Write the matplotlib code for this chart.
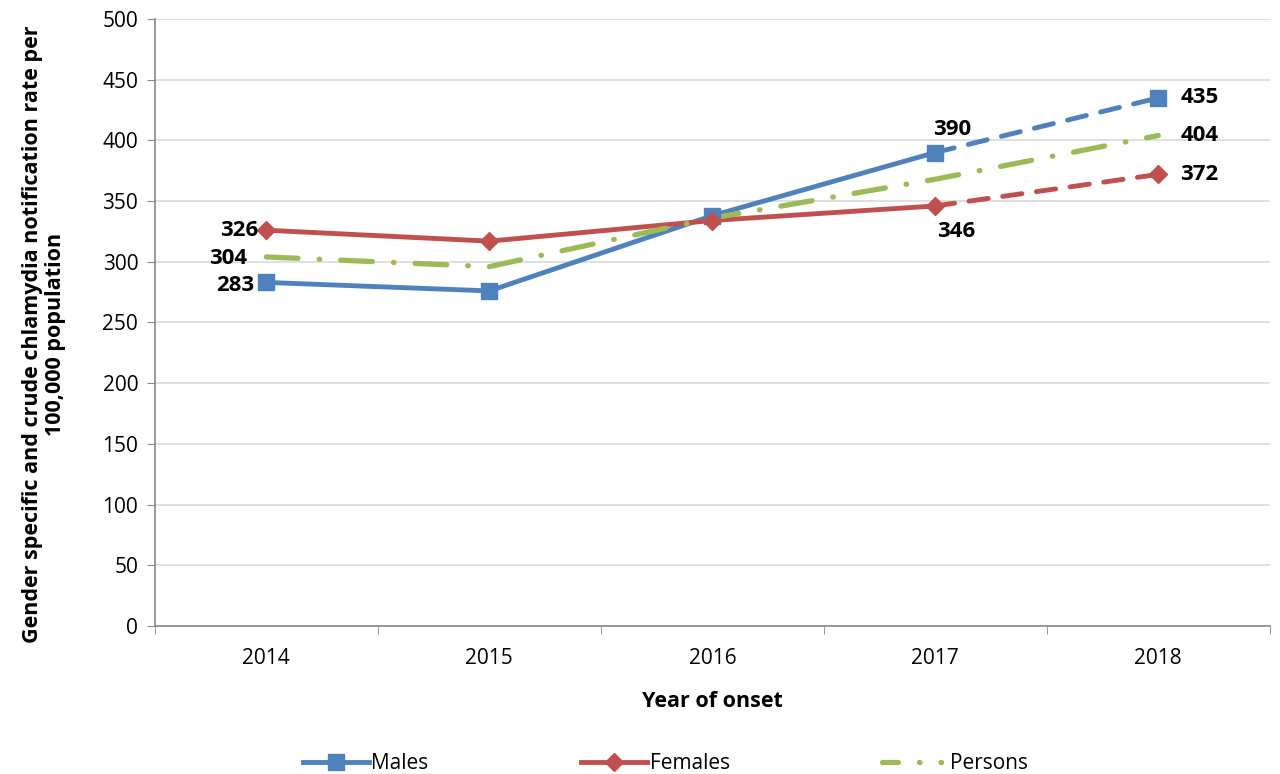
import matplotlib
matplotlib.use("Agg")
import matplotlib.pyplot as plt
import numpy as np

plt.rcParams['font.family'] = ['Open Sans', 'DejaVu Sans']

years = ["2014", "2015", "2016", "2017", "2018"]
males = [283, 276, 338, 390, 435]
females = [326, 317, 334, 346, 372]
persons = [304, 296, 336, 368, 404]

c_m = '#4F81BD'
c_f = '#C0504D'
c_p = '#9BBB59'

x = np.arange(len(years))

fig = plt.figure(figsize=(12.8, 7.74), dpi=100)
ax = fig.add_axes([0.121, 0.1912, 0.871, 0.7843])

# solid up to 2017, dashed for 2017-2018
ax.plot(x[:4], males[:4], color=c_m, lw=3.5, solid_capstyle='round', zorder=3)
ax.plot(x[3:], males[3:], color=c_m, lw=3.5, ls=(0, (4, 3)), dash_capstyle='round', zorder=3)
ax.plot(x, males, ls='none', marker='s', ms=11, color=c_m, zorder=4)

ax.plot(x[:4], females[:4], color=c_f, lw=3.5, solid_capstyle='round', zorder=3)
ax.plot(x[3:], females[3:], color=c_f, lw=3.5, ls=(0, (4, 3)), dash_capstyle='round', zorder=3)
ax.plot(x, females, ls='none', marker='D', ms=9, color=c_f, zorder=4)

ax.plot(x, persons, color=c_p, lw=3.8, ls=(0, (6, 4, 0.1, 4)), dash_capstyle='round', zorder=3)

# legend proxies
ax.plot([], [], color=c_m, lw=3.5, marker='s', ms=11, label='Males')
ax.plot([], [], color=c_f, lw=3.5, marker='D', ms=9, label='Females')
ax.plot([], [], color=c_p, lw=3.8, ls=(0, (3, 4, 0.1, 4, 0.1, 4)), dash_capstyle='round', label='Persons')

lab = dict(fontsize=16, fontweight='bold', color='black', zorder=5)
ax.annotate(str(males[0]), (x[0], males[0]), xytext=(-9, -2), textcoords='offset points', ha='right', va='center', **lab)
ax.annotate(str(females[0]), (x[0], females[0]), xytext=(-6, 0), textcoords='offset points', ha='right', va='center', **lab)
ax.annotate(str(persons[0]), (x[0], persons[0]), xytext=(-14, -1), textcoords='offset points', ha='right', va='center', **lab)
ax.annotate(str(males[3]), (x[3], males[3]), xytext=(12, 9), textcoords='offset points', ha='center', va='bottom', **lab)
ax.annotate(str(females[3]), (x[3], females[3]), xytext=(15, -11), textcoords='offset points', ha='center', va='top', **lab)
ax.annotate(str(males[4]), (x[4], males[4]), xytext=(16, 0), textcoords='offset points', ha='left', va='center', **lab)
ax.annotate(str(persons[4]), (x[4], persons[4]), xytext=(16, 0), textcoords='offset points', ha='left', va='center', **lab)
ax.annotate(str(females[4]), (x[4], females[4]), xytext=(16, 0), textcoords='offset points', ha='left', va='center', **lab)

ax.set_xlim(-0.5, len(years) - 0.5)
ax.set_ylim(0, 500)
ax.set_yticks(np.arange(0, 501, 50))
ax.set_xticks(x)
ax.set_xticklabels(years)
ax.set_xticks(np.arange(-0.5, len(years)), minor=True)
ax.tick_params(axis='x', which='major', length=0, pad=16, labelsize=15)
ax.tick_params(axis='x', which='minor', length=6, color='#888888')
ax.tick_params(axis='y', length=6, color='#888888', labelsize=15, pad=6)

ax.grid(axis='y', color='#D9D9D9', lw=1.2)
ax.set_axisbelow(True)
for s in ['top', 'right']:
    ax.spines[s].set_visible(False)
for s in ['left', 'bottom']:
    ax.spines[s].set_color('#888888')
    ax.spines[s].set_linewidth(1.2)

ax.set_xlabel("Year of onset", fontsize=15.5, fontweight='bold', labelpad=16)
ax.set_ylabel("Gender specific and crude chlamydia notification rate per\n100,000 population",
              fontsize=15.5, fontweight='bold', linespacing=1.1)
ax.yaxis.set_label_coords(-0.08, 0.48)

leg = fig.legend(loc='lower center', bbox_to_anchor=(0.52, -0.024), ncol=3, frameon=False,
                 fontsize=15, columnspacing=7.3, handlelength=3.2, handletextpad=0.1)

fig.savefig("out.png", dpi=100)
